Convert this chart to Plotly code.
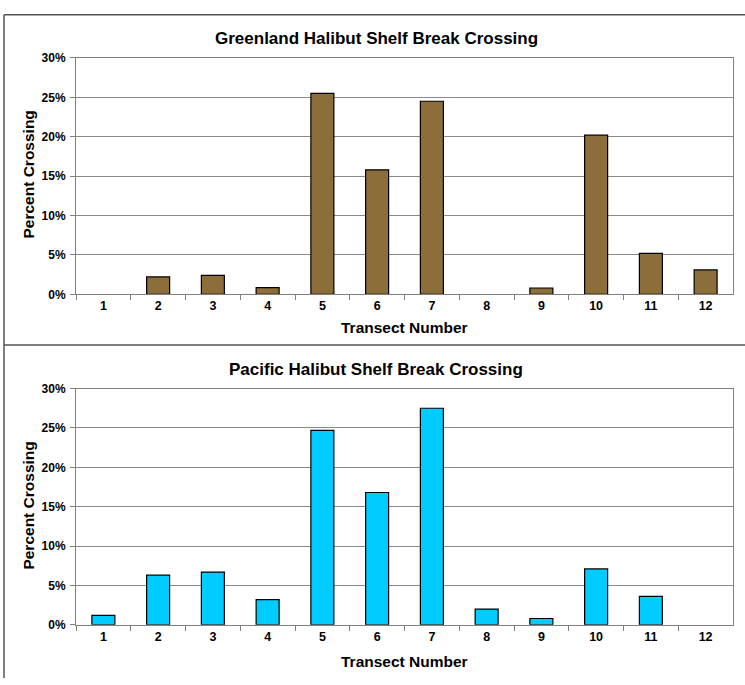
import plotly.graph_objects as go

transects = [str(i) for i in range(1, 13)]
greenland = [0, 2.2, 2.4, 0.85, 25.5, 15.8, 24.5, 0, 0.8, 20.2, 5.2, 3.1]
pacific = [1.2, 6.3, 6.7, 3.2, 24.7, 16.8, 27.5, 2.0, 0.8, 7.1, 3.6, 0]
y_ticks = [0, 5, 10, 15, 20, 25, 30]
y_tick_labels = ["0%", "5%", "10%", "15%", "20%", "25%", "30%"]

W, H = 745, 685
FONT = "Liberation Sans, Arial, sans-serif"

def px(x):
    return x / W

def py(y):
    return 1 - y / H

def outline_widths(vals):
    return [0 if v == 0 else 1.2 for v in vals]

fig = go.Figure()
fig.add_trace(go.Bar(x=transects, y=greenland,
                     marker=dict(color="#8C6E3A", line=dict(color="#000000", width=outline_widths(greenland))),
                     xaxis="x", yaxis="y", showlegend=False))
fig.add_trace(go.Bar(x=transects, y=pacific,
                     marker=dict(color="#00CCFF", line=dict(color="#000000", width=outline_widths(pacific))),
                     xaxis="x2", yaxis="y2", showlegend=False))

xcommon = dict(type="category", range=[-0.5, 11.5], showline=True, linecolor="#808080", linewidth=1,
               mirror=True, ticks="outside", tickson="boundaries", ticklen=5, tickcolor="#808080",
               ticklabelstandoff=0,
               tickfont=dict(family=FONT, size=12.5, color="#000", weight=700), showgrid=False)
ycommon = dict(range=[0, 30], tickmode="array", tickvals=y_ticks, ticktext=y_tick_labels,
               showline=True, linecolor="#808080",
               linewidth=1, mirror=True, ticks="outside", ticklen=5, tickcolor="#808080",
               ticklabelstandoff=2,
               showgrid=True, gridcolor="#8A8A8A", gridwidth=1, zeroline=False,
               tickfont=dict(family=FONT, size=12, color="#000", weight=700))

fig.update_layout(
    width=W, height=H, margin=dict(l=0, r=0, t=0, b=0),
    paper_bgcolor="white", plot_bgcolor="white",
    bargap=0.58,
    xaxis=dict(domain=[px(76), px(733)], anchor="y", **xcommon),
    yaxis=dict(domain=[py(293.3), py(52)], anchor="x", **ycommon),
    xaxis2=dict(domain=[px(76), px(733)], anchor="y2", **xcommon),
    yaxis2=dict(domain=[py(630.7), py(389.5)], anchor="x2", **ycommon),
)

ann = []
def add_text(text, x, y, size, angle=0):
    ann.append(dict(text=text, x=px(x), y=py(y), xref="paper", yref="paper", showarrow=False,
                    xanchor="center", yanchor="middle", textangle=angle,
                    font=dict(family=FONT, size=size, color="#000", weight=700)))

add_text("Greenland Halibut Shelf Break Crossing", 376, 32, 17)
add_text("Percent Crossing", 29, 171, 15.5, -90)
add_text("Transect Number", 404, 327, 15.5)
add_text("Pacific Halibut Shelf Break Crossing", 376, 370, 17)
add_text("Percent Crossing", 29, 509, 15.5, -90)
add_text("Transect Number", 404, 668, 15.5)
fig.update_layout(annotations=ann)

shapes = []
def line(x0, y0, x1, y1):
    shapes.append(dict(type="line", xref="paper", yref="paper", x0=px(x0), y0=py(y0), x1=px(x1), y1=py(y1),
                       line=dict(color="#555555", width=1.5)))
line(4, 8, 745, 8)
line(4, 8, 4, 685)
line(4, 345, 745, 345)
fig.update_layout(shapes=shapes)

fig.write_html("out.html")
